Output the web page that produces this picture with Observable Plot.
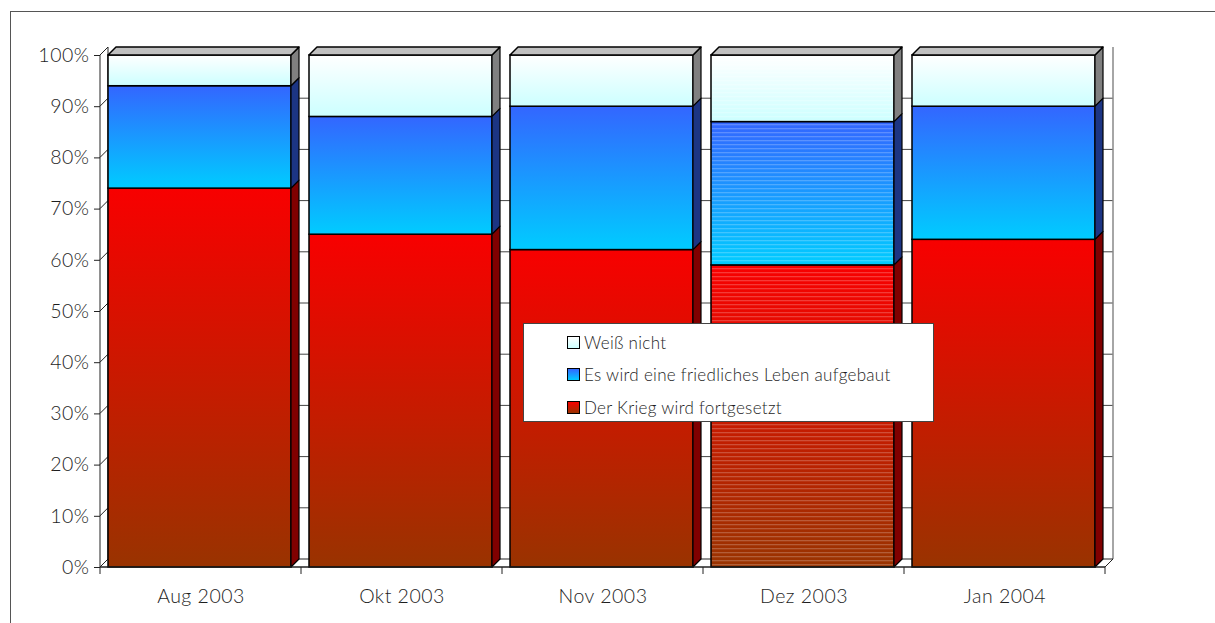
<!DOCTYPE html>
<html><head><meta charset="utf-8">
<script src="https://cdn.jsdelivr.net/npm/d3@7"></script>
<script src="https://cdn.jsdelivr.net/npm/@observablehq/plot@0.6"></script>
<style>
body{margin:0;background:#fff;font-family:Lato,"Noto Sans",sans-serif;}
#wrap{position:relative;width:1215px;height:623px;overflow:hidden;background:#fff;}
#frame{position:absolute;left:10px;top:11px;width:1220px;height:620px;border-left:1px solid #555;border-top:1px solid #555;}
#chart{position:absolute;left:0;top:0;}
#chart svg text{font-weight:300;letter-spacing:0.5px;fill:#1e1e1e;}
#legend{position:absolute;left:523px;top:323px;width:409px;height:97px;border:1px solid #444;background:#fff;font-size:17px;font-weight:300;letter-spacing:0.3px;color:#1e1e1e;}
.row{position:absolute;left:43px;height:20px;display:flex;align-items:center;}
.sw{width:11px;height:11px;border:1.5px solid #000;margin-right:4px;}
</style></head>
<body>
<div id="wrap"><div id="frame"></div><div id="chart"></div><div id="legend"></div></div>
<script>
const months = ["Aug 2003", "Okt 2003", "Nov 2003", "Dez 2003", "Jan 2004"];
const seriesNames = ["Der Krieg wird fortgesetzt", "Es wird eine friedliches Leben aufgebaut", "Weiß nicht"];
const krieg = [74, 65, 62, 59, 64];
const friedlich = [20, 23, 28, 28, 26];
const weissNicht = [6, 12, 10, 13, 10];
const yTicks = [0, 10, 20, 30, 40, 50, 60, 70, 80, 90, 100];
const legendOrder = ["Weiß nicht", "Es wird eine friedliches Leben aufgebaut", "Der Krieg wird fortgesetzt"];

const fills = ["url(#gRed)", "url(#gBlue)", "url(#gLight)"];
const sideFills = ["#800000", "#1c3584", "#808080"];
const swatchCss = ["linear-gradient(#f80000,#993300)", "linear-gradient(#3366ff,#00ccff)", "linear-gradient(#ffffff,#ccffff)"];

const seriesValues = [krieg, friedlich, weissNicht];
const data = [];
seriesNames.forEach((s, i) => months.forEach((m, j) => data.push({month: m, series: s, value: seriesValues[i][j]})));

const D = 8, INL = 8, INR = 10;

function bandInfo(x) {
  return typeof x.bandwidth === "function" ? x.bandwidth() : (x(months[1]) - x(months[0]));
}

// walls, gridlines and floor
function backdrop(index, {x, y}) {
  const g = d3.create("svg:g");
  const bw = bandInfo(x);
  const x0 = x(months[0]), x1 = x(months[months.length - 1]) + bw;
  const yb = y(0), yt = y(100);
  g.append("rect").attr("x", x0 + D).attr("y", yt - D).attr("width", x1 - x0).attr("height", yb - yt).attr("fill", "#fff");
  for (const v of yTicks) {
    if (v > 0 && v < 100) g.append("line").attr("x1", x0 + D).attr("x2", x1 + D).attr("y1", y(v) - D).attr("y2", y(v) - D).attr("stroke", "#444");
    g.append("line").attr("x1", x0).attr("x2", x0 + D).attr("y1", y(v)).attr("y2", y(v) - D).attr("stroke", "#222");
  }
  g.append("line").attr("x1", x0 + D).attr("x2", x0 + D).attr("y1", yt - D).attr("y2", yb - D).attr("stroke", "#222");
  g.append("line").attr("x1", x1 + D).attr("x2", x1 + D).attr("y1", yt - D).attr("y2", yb - D).attr("stroke", "#888").attr("stroke-width", 1.5);
  g.append("path").attr("d", `M${x0},${yb}L${x0 + D},${yb - D}L${x1 + D},${yb - D}L${x1},${yb}Z`).attr("fill", "#fff").attr("stroke", "#222");
  g.append("line").attr("x1", x0).attr("x2", x0).attr("y1", yt).attr("y2", yb).attr("stroke", "#222");
  return g.node();
}

// side faces and top faces of the bars
function faces(index, {x, y}) {
  const g = d3.create("svg:g");
  const bw = bandInfo(x);
  months.forEach((m, j) => {
    const xl = x(m) + INL, xr = x(m) + bw - INR;
    let base = 0;
    seriesValues.forEach((vals, i) => {
      const top = base + vals[j];
      const ya = y(base), yb2 = y(top);
      g.append("path").attr("d", `M${xr},${ya}L${xr + D},${ya - D}L${xr + D},${yb2 - D}L${xr},${yb2}Z`)
        .attr("fill", sideFills[i]).attr("stroke", "#000").attr("stroke-width", 1.2).attr("stroke-linejoin", "round");
      base = top;
    });
    const yt = y(base);
    g.append("path").attr("d", `M${xl},${yt}L${xl + D},${yt - D}L${xr + D},${yt - D}L${xr},${yt}Z`)
      .attr("fill", "#c0c0c0").attr("stroke", "#000").attr("stroke-width", 1.5).attr("stroke-linejoin", "round");
  });
  return g.node();
}

// category boundary ticks below x axis
function xBoundaries(index, {x, y}) {
  const g = d3.create("svg:g");
  const bw = bandInfo(x);
  const yb = y(0);
  const xs = months.map(m => x(m)).concat([x(months[months.length - 1]) + bw]);
  g.append("line").attr("x1", xs[0]).attr("x2", xs[xs.length - 1]).attr("y1", yb).attr("y2", yb).attr("stroke", "#222");
  for (const xv of xs) g.append("line").attr("x1", xv).attr("x2", xv).attr("y1", yb).attr("y2", yb + 7).attr("stroke", "#222");
  return g.node();
}

const dez = data.filter(d => d.month === "Dez 2003");

const chart = Plot.plot({
  width: 1215,
  height: 623,
  marginLeft: 100,
  marginRight: 110,
  marginTop: 55,
  marginBottom: 56,
  style: {fontFamily: "Lato, 'Noto Sans', sans-serif", fontSize: "19.5px", color: "#222", background: "transparent", overflow: "visible"},
  x: {domain: months, padding: 0},
  y: {domain: [0, 100]},
  color: {type: "ordinal", domain: seriesNames, range: fills},
  marks: [
    backdrop,
    Plot.barY(data, Plot.stackY({x: "month", y: "value", fill: "series", order: seriesNames, insetLeft: INL, insetRight: INR, stroke: "#000", strokeWidth: 1.5})),
    Plot.barY(dez, Plot.stackY({x: "month", y: "value", z: "series", order: seriesNames, fill: "url(#stripes)", insetLeft: INL + 1, insetRight: INR + 1, insetTop: 1, insetBottom: 1})),
    faces,
    xBoundaries,
    Plot.axisY({ticks: yTicks, tickFormat: d => d + "%", tickSize: 6, tickPadding: 5, label: null, stroke: "#222"}),
    Plot.axisX({tickSize: 0, tickPadding: 22, label: null})
  ]
});

const defs = d3.select(chart).insert("defs", ":first-child");
function grad(id, c1, c2) {
  const lg = defs.append("linearGradient").attr("id", id).attr("x1", 0).attr("y1", 0).attr("x2", 0).attr("y2", 1);
  lg.append("stop").attr("offset", "0%").attr("stop-color", c1);
  lg.append("stop").attr("offset", "100%").attr("stop-color", c2);
}
grad("gRed", "#f80000", "#993300");
grad("gBlue", "#3366ff", "#00ccff");
grad("gLight", "#ffffff", "#ccffff");
const pat = defs.append("pattern").attr("id", "stripes").attr("patternUnits", "userSpaceOnUse").attr("width", 10).attr("height", 4);
pat.append("rect").attr("x", 0).attr("y", 0).attr("width", 10).attr("height", 1.3).attr("fill", "#ffffff").attr("fill-opacity", 0.22);

document.getElementById("chart").appendChild(chart);

const legend = document.getElementById("legend");
const rowTops = [8, 40, 73];
legendOrder.forEach((name, k) => {
  const i = seriesNames.indexOf(name);
  const row = document.createElement("div");
  row.className = "row";
  row.style.top = rowTops[k] + "px";
  const sw = document.createElement("div");
  sw.className = "sw";
  sw.style.background = swatchCss[i];
  const t = document.createElement("span");
  t.textContent = name;
  row.appendChild(sw);
  row.appendChild(t);
  legend.appendChild(row);
});
</script>
</body></html>
